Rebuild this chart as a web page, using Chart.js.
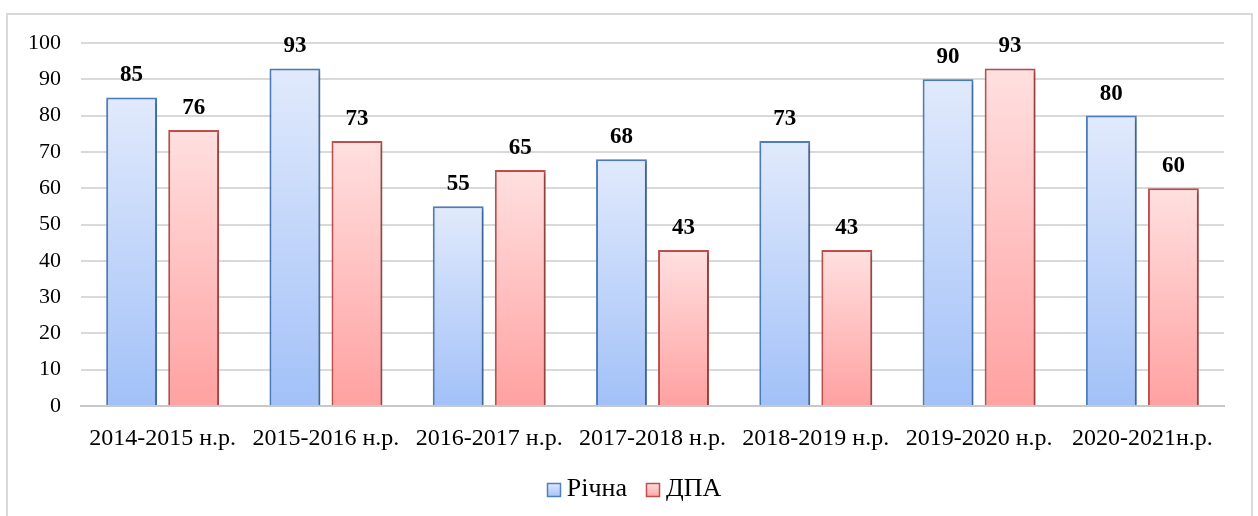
<!DOCTYPE html>
<html>
<head>
<meta charset="utf-8">
<script src="https://cdn.jsdelivr.net/npm/chart.js@4.4.1/dist/chart.umd.min.js"></script>
<style>
html,body{margin:0;padding:0;background:#fff;}
#wrap{width:1258px;height:516px;position:relative;}
</style>
</head>
<body>
<div id="wrap"><canvas id="c" width="1258" height="516"></canvas></div>
<script>
const categories = ["2014-2015 н.р.", "2015-2016 н.р.", "2016-2017 н.р.", "2017-2018 н.р.", "2018-2019 н.р.", "2019-2020 н.р.", "2020-2021н.р."];
const seriesNames = ["Річна", "ДПА"];
const richna = [85, 93, 55, 68, 73, 90, 80];
const dpa = [76, 73, 65, 43, 43, 93, 60];
const yTicks = [0, 10, 20, 30, 40, 50, 60, 70, 80, 90, 100];

const SERIF = "'Liberation Serif', 'Times New Roman', serif";
const legendColors = [
  { fill: ['#dde8fc', '#a6c4f8'], stroke: '#4f7fbf' },
  { fill: ['#ffe0e0', '#ffa5a5'], stroke: '#c0504d' }
];

function barGradient(top, bottom) {
  return function(ctx) {
    const chart = ctx.chart;
    if (!chart.chartArea || ctx.type !== 'data') return bottom;
    const y = chart.scales.y;
    const yTop = y.getPixelForValue(ctx.raw);
    const yBase = y.getPixelForValue(0);
    if (!isFinite(yTop) || !isFinite(yBase) || yTop === yBase) return bottom;
    const g = chart.ctx.createLinearGradient(0, yTop, 0, yBase);
    g.addColorStop(0, top);
    g.addColorStop(1, bottom);
    return g;
  };
}

const framePlugin = {
  id: 'frame',
  beforeDraw(chart) {
    const c = chart.ctx;
    c.save();
    c.fillStyle = '#fff';
    c.fillRect(0, 0, chart.width, chart.height);
    c.strokeStyle = '#d9d9d9';
    c.lineWidth = 2;
    c.strokeRect(7, 14, 1245, 600);
    c.restore();
  }
};

const shadowPlugin = {
  id: 'shadow',
  beforeDatasetsDraw(chart) {
    const c = chart.ctx;
    c.save();
    c.shadowColor = 'rgba(0,0,0,0.28)';
    c.shadowBlur = 4;
    c.shadowOffsetX = 2;
    c.shadowOffsetY = 2;
  },
  afterDatasetsDraw(chart) {
    chart.ctx.restore();
  }
};

const labelPlugin = {
  id: 'valueLabels',
  afterDatasetsDraw(chart) {
    const c = chart.ctx;
    c.save();
    c.shadowColor = 'transparent';
    c.font = "bold 23px " + SERIF;
    c.fillStyle = '#000';
    c.textAlign = 'center';
    c.textBaseline = 'alphabetic';
    chart.data.datasets.forEach((ds, i) => {
      const meta = chart.getDatasetMeta(i);
      meta.data.forEach((bar, j) => {
        c.fillText(String(ds.data[j]), bar.x, bar.y - 16);
      });
    });
    c.restore();
  }
};

// draws the legend swatches (14px squares) at the start of each legend item
const legendBoxPlugin = {
  id: 'legendBoxes',
  afterDraw(chart) {
    const lg = chart.legend;
    if (!lg || !lg.legendHitBoxes) return;
    const c = chart.ctx;
    c.save();
    lg.legendHitBoxes.forEach((hb, i) => {
      const col = legendColors[i];
      const s = 13;
      const x = Math.round(hb.left) + 0.5;
      const y = Math.round(hb.top + hb.height / 2 - s / 2) + 0.5;
      const g = c.createLinearGradient(0, y, 0, y + s);
      g.addColorStop(0, col.fill[0]);
      g.addColorStop(1, col.fill[1]);
      c.fillStyle = g;
      c.fillRect(x, y, s, s);
      c.strokeStyle = col.stroke;
      c.lineWidth = 1.5;
      c.strokeRect(x, y, s, s);
    });
    c.restore();
  }
};

new Chart(document.getElementById('c'), {
  type: 'bar',
  data: {
    labels: categories,
    datasets: [
      {
        label: seriesNames[0],
        data: richna,
        backgroundColor: barGradient('#e1eafc', '#a2c1f8'),
        borderColor: '#4f7fbf',
        borderWidth: 2,
        borderSkipped: 'bottom',
        categoryPercentage: 0.76,
        barPercentage: 0.82
      },
      {
        label: seriesNames[1],
        data: dpa,
        backgroundColor: barGradient('#ffe0e0', '#ffa1a1'),
        borderColor: '#c0504d',
        borderWidth: 2,
        borderSkipped: 'bottom',
        categoryPercentage: 0.76,
        barPercentage: 0.82
      }
    ]
  },
  options: {
    responsive: false,
    animation: false,
    devicePixelRatio: 1,
    layout: { padding: { left: 10, right: 0, top: 43, bottom: 4 } },
    plugins: {
      tooltip: { enabled: false },
      legend: {
        position: 'bottom',
        labels: {
          font: { family: SERIF, size: 26 },
          color: '#000',
          boxWidth: 7,
          boxHeight: 13,
          padding: 19,
          generateLabels(chart) {
            return seriesNames.map((n, i) => ({
              text: n, fillStyle: 'rgba(0,0,0,0)', strokeStyle: 'rgba(0,0,0,0)', lineWidth: 0, datasetIndex: i
            }));
          }
        }
      }
    },
    scales: {
      x: {
        grid: { display: false, drawTicks: false },
        border: { color: '#c8c8c8', width: 2 },
        ticks: {
          color: '#000',
          font: { family: SERIF, size: 24 },
          padding: 18,
          maxRotation: 0,
          autoSkip: false
        },
        afterFit(scale) { scale.height = 51; }
      },
      y: {
        min: 0,
        max: 100,
        afterBuildTicks(scale) { scale.ticks = yTicks.map(v => ({ value: v })); },
        grid: { color: '#d9d9d9', lineWidth: 2, drawTicks: false },
        border: { display: false },
        ticks: {
          color: '#000',
          font: { family: SERIF, size: 22 },
          padding: 20
        },
        afterFit(scale) { scale.width = 71; }
      },
      yRight: {
        type: 'linear',
        position: 'right',
        min: 0,
        max: 1,
        grid: { display: false, drawTicks: false },
        border: { display: false },
        ticks: { display: false },
        afterFit(scale) { scale.width = 34; }
      }
    }
  },
  plugins: [framePlugin, shadowPlugin, labelPlugin, legendBoxPlugin]
});
</script>
</body>
</html>
